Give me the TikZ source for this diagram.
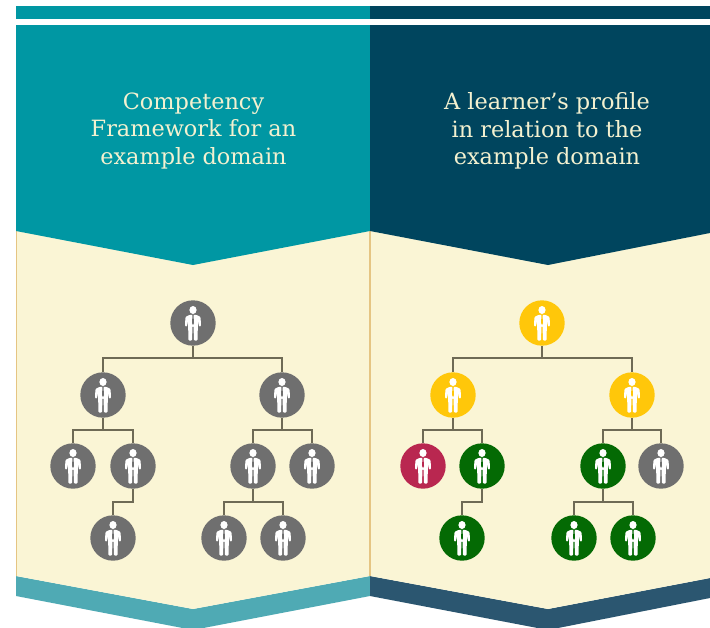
\documentclass[tikz,border=0pt]{standalone}
\usepackage{fontspec}
\setmainfont{DejaVu Serif}
\definecolor{tealA}{HTML}{0097A3}
\definecolor{navyA}{HTML}{00455E}
\definecolor{creamA}{HTML}{FAF5D5}
\definecolor{tealB}{HTML}{4FAAB4}
\definecolor{navyB}{HTML}{2B5670}
\definecolor{edgeA}{HTML}{E5C583}
\definecolor{lineA}{HTML}{6E6A55}
\definecolor{grayA}{HTML}{6F6F6F}
\definecolor{yelA}{HTML}{FFC70A}
\definecolor{redA}{HTML}{B92750}
\definecolor{greenA}{HTML}{046A04}
\definecolor{textA}{HTML}{F3F1D0}
\tikzset{
  pnode/.style={circle,minimum size=45.4pt,inner sep=0pt,draw=none},
  conn/.style={draw=lineA,line width=1.2pt},
  titletext/.style={text=textA,align=center,font=\fontsize{22.4}{27.5}\selectfont,inner sep=0pt},
}
\newcommand{\persona}[4]{%
  \node[pnode,fill=#4] (#1) at (#2,#3) {};
  \begin{scope}[shift={(#2,#3)}]
    \fill[white] (0,-13) ellipse (3.6 and 4);
    \fill[white,rounded corners=1pt] (-3.4,-8.2) -- (3.4,-8.2) -- (7.6,-6) -- (8,3.5) -- (6,3.5) -- (4.9,-2.5)
      -- (4.6,17.5) -- (1,17.5) -- (0.5,3) -- (-0.5,3) -- (-1,17.5) -- (-4.6,17.5) -- (-4.9,-2.5) -- (-6,3.5) -- (-8,3.5) -- (-7.6,-6) -- cycle;
    \fill[#4] (-0.8,-8.2) -- (0.8,-8.2) -- (0.6,-6.5) -- (1,0) -- (0,2) -- (-1,0) -- (-0.6,-6.5) -- cycle;
  \end{scope}%
}
\begin{document}
\begin{tikzpicture}[x=1pt,y=-1pt]
\useasboundingbox (0,0) rectangle (710,627);
\clip (0,0) rectangle (710,627);
\fill[white] (0,0) rectangle (710,627);
% bottom bands
\fill[tealB] (16,576) -- (193,609) -- (370,576) -- (370,596) -- (193,630) -- (16,596) -- cycle;
\fill[navyB] (370,576) -- (548,609) -- (710,578) -- (710,598) -- (548,630) -- (370,596) -- cycle;
% cream panel
\fill[creamA] (16,225) -- (710,225) -- (710,578) -- (548,609) -- (370,576) -- (193,609) -- (16,576) -- cycle;
\draw[edgeA,line width=1.2pt] (16.5,231) -- (16.5,576);
\draw[edgeA,line width=1.2pt] (370,231) -- (370,576);
% top bars
\fill[tealA] (16,6) rectangle (370,19);
\fill[navyA] (370,6) rectangle (710,19);
\fill[tealA] (16,25) -- (370,25) -- (370,231) -- (193,265) -- (16,231) -- cycle;
\fill[navyA] (370,25) -- (710,25) -- (710,233) -- (548,265) -- (370,231) -- cycle;
% titles
\node[titletext] (titleL) at (193.5,131) {Competency\\Framework for an\\example domain};
\node[titletext] (titleR) at (547,131) {A learner’s profile\\in relation to the\\example domain};
% left tree
\persona{a}{193}{323}{grayA}
\persona{b}{103}{395}{grayA}
\persona{c}{282}{395}{grayA}
\persona{d}{73}{466}{grayA}
\persona{e}{133}{466}{grayA}
\persona{f}{253}{466}{grayA}
\persona{g}{312}{466}{grayA}
\persona{h}{113}{538}{grayA}
\persona{i}{224}{538}{grayA}
\persona{j}{283}{538}{grayA}
% right tree
\persona{ra}{542}{323}{yelA}
\persona{rb}{453}{395}{yelA}
\persona{rc}{632}{395}{yelA}
\persona{rd}{423}{466}{redA}
\persona{re}{482}{466}{greenA}
\persona{rf}{603}{466}{greenA}
\persona{rg}{661}{466}{grayA}
\persona{rh}{462}{538}{greenA}
\persona{ri}{574}{538}{greenA}
\persona{rj}{633}{538}{greenA}
% bus levels
\coordinate (busA) at (0,358);
\coordinate (busB) at (0,430);
\coordinate (busC) at (0,502);
% left connectors
\draw[conn] (a.south) -- (a.south|-busA);
\draw[conn] (b.north) |- (busA-|c.north) -- (c.north);
\draw[conn] (b.south) -- (b.south|-busB);
\draw[conn] (d.north) |- (busB-|e.north) -- (e.north);
\draw[conn] (c.south) -- (c.south|-busB);
\draw[conn] (f.north) |- (busB-|g.north) -- (g.north);
\draw[conn] (e.south) |- (busC-|h.north) -- (h.north);
\draw[conn] (f.south) -- (f.south|-busC);
\draw[conn] (i.north) |- (busC-|j.north) -- (j.north);
% right connectors
\draw[conn] (ra.south) -- (ra.south|-busA);
\draw[conn] (rb.north) |- (busA-|rc.north) -- (rc.north);
\draw[conn] (rb.south) -- (rb.south|-busB);
\draw[conn] (rd.north) |- (busB-|re.north) -- (re.north);
\draw[conn] (rc.south) -- (rc.south|-busB);
\draw[conn] (rf.north) |- (busB-|rg.north) -- (rg.north);
\draw[conn] (re.south) |- (busC-|rh.north) -- (rh.north);
\draw[conn] (rf.south) -- (rf.south|-busC);
\draw[conn] (ri.north) |- (busC-|rj.north) -- (rj.north);
\end{tikzpicture}
\end{document}
